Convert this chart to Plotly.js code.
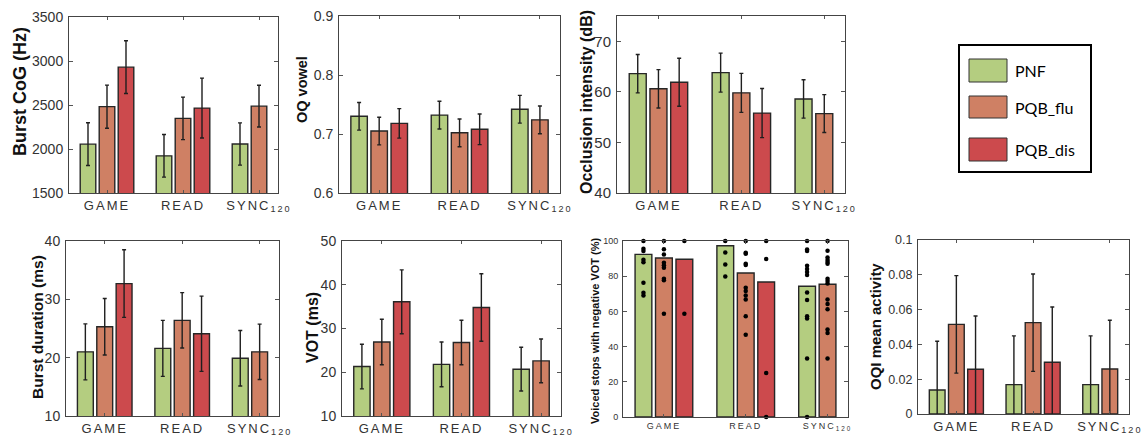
<!DOCTYPE html>
<html><head><meta charset="utf-8">
<script src="https://cdn.plot.ly/plotly-3.0.1.min.js"></script>
<style>
html,body{margin:0;padding:0;background:#fff;}
#chart{width:1142px;height:441px;}
.xaxislayer-above text{letter-spacing:2px;}
</style></head><body><div id="chart"></div>
<script>
// ---------- DATA ----------
const categories = ['GAME', 'READ', 'SYNC'];
const groupNames = ['PNF', 'PQB_flu', 'PQB_dis'];
const syncSubscript = '120';

// Burst CoG (Hz)
const cogPNF = [2055, 1922, 2057];
const cogPNFErr = [243, 242, 240];
const cogFlu = [2481, 2348, 2487];
const cogFluErr = [245, 242, 237];
const cogDis = [2930, 2465, null];
const cogDisErr = [300, 340, null];

// OQ vowel
const oqPNF = [0.730, 0.732, 0.742];
const oqPNFErr = [0.0235, 0.0235, 0.0235];
const oqFlu = [0.705, 0.702, 0.724];
const oqFluErr = [0.0235, 0.0235, 0.0235];
const oqDis = [0.718, 0.708, null];
const oqDisErr = [0.025, 0.026, null];

// Occlusion intensity (dB)
const occPNF = [63.6, 63.8, 58.6];
const occPNFErr = [3.8, 3.85, 3.8];
const occFlu = [60.6, 59.8, 55.7];
const occFluErr = [3.8, 3.85, 3.75];
const occDis = [61.9, 55.8, null];
const occDisErr = [4.75, 4.85, null];

// Burst duration (ms)
const durPNF = [21.0, 21.6, 19.9];
const durPNFErr = [4.8, 4.8, 4.75];
const durFlu = [25.3, 26.4, 21.0];
const durFluErr = [4.85, 4.75, 4.75];
const durDis = [32.7, 24.1, null];
const durDisErr = [5.8, 6.45, null];

// VOT (ms)
const votPNF = [21.3, 21.8, 20.7];
const votPNFErr = [5.1, 5.1, 5.0];
const votFlu = [26.9, 26.8, 22.6];
const votFluErr = [5.2, 5.1, 5.0];
const votDis = [36.1, 34.8, null];
const votDisErr = [7.3, 7.7, null];

// Voiced stops with negative VOT (%)
const voicedPNF = [92.4, 97.3, 74.3];
const voicedFlu = [90.3, 81.8, 75.4];
const voicedDis = [89.6, 76.7, null];
// individual speakers (dots)
const voicedPNFGame = [100, 95.6, 94.3, 89.4, 87.9, 76.3, 70.6, 69.1];
const voicedPNFRead = [100, 93.4, 86.6, 79.9];
const voicedPNFSync = [100, 95.1, 94.3, 86.0, 84.1, 82.4, 80.7, 70.7, 66.5, 57.2, 55.9, 33.2, 0];
const voicedFluGame = [100, 95.3, 92.4, 87.7, 86.2, 84.8, 78.6, 77.7, 58.7];
const voicedFluRead = [100, 93.3, 92.7, 87.1, 86.4, 73.5, 71.6, 69.1, 66.7, 57.2, 46.8];
const voicedFluSync = [100, 94.5, 90.6, 89.2, 88.1, 87.1, 78.6, 77.3, 75.8, 66.7, 64.2, 61.2, 49.7, 47.7, 33.2];
const voicedDisGame = [100, 58.7];
const voicedDisRead = [100, 89.8, 25.0, 0];
const voicedDisSync = [];

// OQI mean activity
const oqiPNF = [0.0138, 0.0169, 0.0169];
const oqiPNFErr = [0.028, 0.028, 0.028];
const oqiFlu = [0.0515, 0.0525, 0.0259];
const oqiFluErr = [0.028, 0.028, 0.028];
const oqiDis = [0.0257, 0.0297, null];
const oqiDisErr = [0.0306, 0.0318, null];

// ---------- STYLE / LAYOUT ----------
const W = 1142, H = 441;
const groupColors = ['#b4cd80', '#cf8064', '#cc4a4d'];
const fontFam = '"Liberation Sans", Arial, Helvetica, sans-serif';
const px = v => v / W;
const py = v => 1 - v / H;

const panels = [
  {title: 'Burst CoG (Hz)', tsize: 18, tx: 20, ty: 92, box: [69, 278, 17, 193], range: [1500, 3500], dtick: 500, yfs: 14, xfs: 13,
   vals: [cogPNF, cogFlu, cogDis], errs: [cogPNFErr, cogFluErr, cogDisErr]},
  {title: 'OQ vowel', tsize: 14.5, tx: 302, ty: 90, box: [339, 560, 16, 193], range: [0.6, 0.9], dtick: 0.1, yfs: 14, xfs: 13,
   vals: [oqPNF, oqFlu, oqDis], errs: [oqPNFErr, oqFluErr, oqDisErr]},
  {title: 'Occlusion intensity (dB)', tsize: 16, tx: 586, ty: 102, box: [617, 845, 16, 193], range: [40, 75], dtick: 10, yfs: 15, xfs: 13,
   vals: [occPNF, occFlu, occDis], errs: [occPNFErr, occFluErr, occDisErr]},
  {title: 'Burst duration (ms)', tsize: 15.5, tx: 37, ty: 327, box: [66, 279, 241, 416], range: [10, 40], dtick: 10, yfs: 14, xfs: 13,
   vals: [durPNF, durFlu, durDis], errs: [durPNFErr, durFluErr, durDisErr]},
  {title: 'VOT (ms)', tsize: 16, tx: 312, ty: 327, box: [342, 561, 241, 416], range: [10, 50], dtick: 10, yfs: 14, xfs: 13,
   vals: [votPNF, votFlu, votDis], errs: [votPNFErr, votFluErr, votDisErr]},
  {title: 'Voiced stops with negative VOT (%)', tsize: 11, tx: 595, ty: 331, box: [623, 848, 241, 417], range: [0, 100], dtick: 20, yfs: 9, xfs: 9,
   vals: [voicedPNF, voicedFlu, voicedDis], errs: null,
   dots: [[voicedPNFGame, voicedPNFRead, voicedPNFSync], [voicedFluGame, voicedFluRead, voicedFluSync], [voicedDisGame, voicedDisRead, voicedDisSync]]},
  {title: 'OQI mean activity', tsize: 15, tx: 875, ty: 326, box: [918, 1129, 240, 414], range: [0, 0.1], dtick: 0.02, yfs: 12.5, xfs: 13,
   vals: [oqiPNF, oqiFlu, oqiDis], errs: [oqiPNFErr, oqiFluErr, oqiDisErr]}
];

const tickText = categories.map(c => c === 'SYNC' ? c + '<sub>' + syncSubscript + '</sub>' : c);

const data = [];
const layout = {
  width: W, height: H,
  margin: {l: 0, r: 0, t: 0, b: 0},
  paper_bgcolor: '#fff', plot_bgcolor: '#fff',
  showlegend: false,
  barmode: 'group', bargap: 0.25, bargroupgap: 0.18,
  scattermode: 'group', scattergap: 0.25,
  font: {family: fontFam, color: '#333'},
  annotations: [], shapes: []
};

panels.forEach((p, i) => {
  const n = i + 1;
  const xk = n === 1 ? 'xaxis' : 'xaxis' + n;
  const yk = n === 1 ? 'yaxis' : 'yaxis' + n;
  const xr = n === 1 ? 'x' : 'x' + n;
  const yr = n === 1 ? 'y' : 'y' + n;
  layout[xk] = {
    domain: [px(p.box[0]), px(p.box[1])], anchor: yr,
    type: 'category', categoryorder: 'array', categoryarray: categories,
    range: [-0.5, 2.25], tickvals: categories, ticktext: tickText,
    showline: true, mirror: 'ticks', linecolor: '#444', linewidth: 1,
    ticks: 'inside', ticklen: 3, tickcolor: '#555',
    tickfont: {family: fontFam, size: p.xfs, color: '#333'},
    showgrid: false, zeroline: false, fixedrange: true
  };
  layout[yk] = {
    domain: [py(p.box[3]), py(p.box[2])], anchor: xr,
    range: p.range, tick0: p.range[0], dtick: p.dtick,
    showline: true, mirror: 'ticks', linecolor: '#444', linewidth: 1,
    ticks: 'inside', ticklen: 4, tickcolor: '#555',
    tickfont: {family: fontFam, size: p.yfs, color: '#333'},
    ticklabelstandoff: 2,
    showgrid: false, zeroline: false, fixedrange: true
  };
  groupNames.forEach((g, k) => {
    const tr = {
      type: 'bar', name: g, x: categories, y: p.vals[k],
      xaxis: xr, yaxis: yr,
      marker: {color: groupColors[k], line: {color: '#262626', width: 1.4}},
      hoverinfo: 'skip'
    };
    if (p.errs) {
      tr.error_y = {type: 'data', array: p.errs[k], visible: true, color: '#1f1f1f', thickness: 1.4, width: 2};
    }
    data.push(tr);
  });
  if (p.dots) {
    groupNames.forEach((g, k) => {
      const xs = [], ys = [];
      categories.forEach((c, ci) => { p.dots[k][ci].forEach(v => { xs.push(c); ys.push(v); }); });
      data.push({
        type: 'scatter', mode: 'markers', name: g + ' speakers', orientation: 'v',
        x: xs, y: ys, xaxis: xr, yaxis: yr, cliponaxis: false,
        marker: {color: '#000', size: 4.5}, hoverinfo: 'skip'
      });
    });
  }
  layout.annotations.push({
    xref: 'paper', yref: 'paper', x: px(p.tx), y: py(p.ty),
    xanchor: 'center', yanchor: 'middle', textangle: -90, showarrow: false,
    text: p.title, font: {family: fontFam, size: p.tsize, color: '#111', weight: 'bold'}
  });
});

// Legend (drawn as box + swatches + labels)
layout.shapes.push({type: 'rect', xref: 'paper', yref: 'paper',
  x0: px(959), x1: px(1091), y0: py(172), y1: py(45), line: {color: '#000', width: 2}, fillcolor: 'rgba(0,0,0,0)'});
const legendRows = [[59, 82], [96, 118], [138, 161]];
groupNames.forEach((g, k) => {
  const r = legendRows[k];
  layout.shapes.push({type: 'rect', xref: 'paper', yref: 'paper',
    x0: px(969), x1: px(1007), y0: py(r[1]), y1: py(r[0]),
    line: {color: '#333', width: 1}, fillcolor: groupColors[k]});
  layout.annotations.push({xref: 'paper', yref: 'paper', x: px(1013), y: py((r[0] + r[1]) / 2),
    xanchor: 'left', yanchor: 'middle', showarrow: false, text: g,
    font: {family: 'Lato, "Open Sans", sans-serif', size: 16, color: '#000'}});
});

Plotly.newPlot('chart', data, layout, {staticPlot: true, displayModeBar: false});
</script></body></html>
